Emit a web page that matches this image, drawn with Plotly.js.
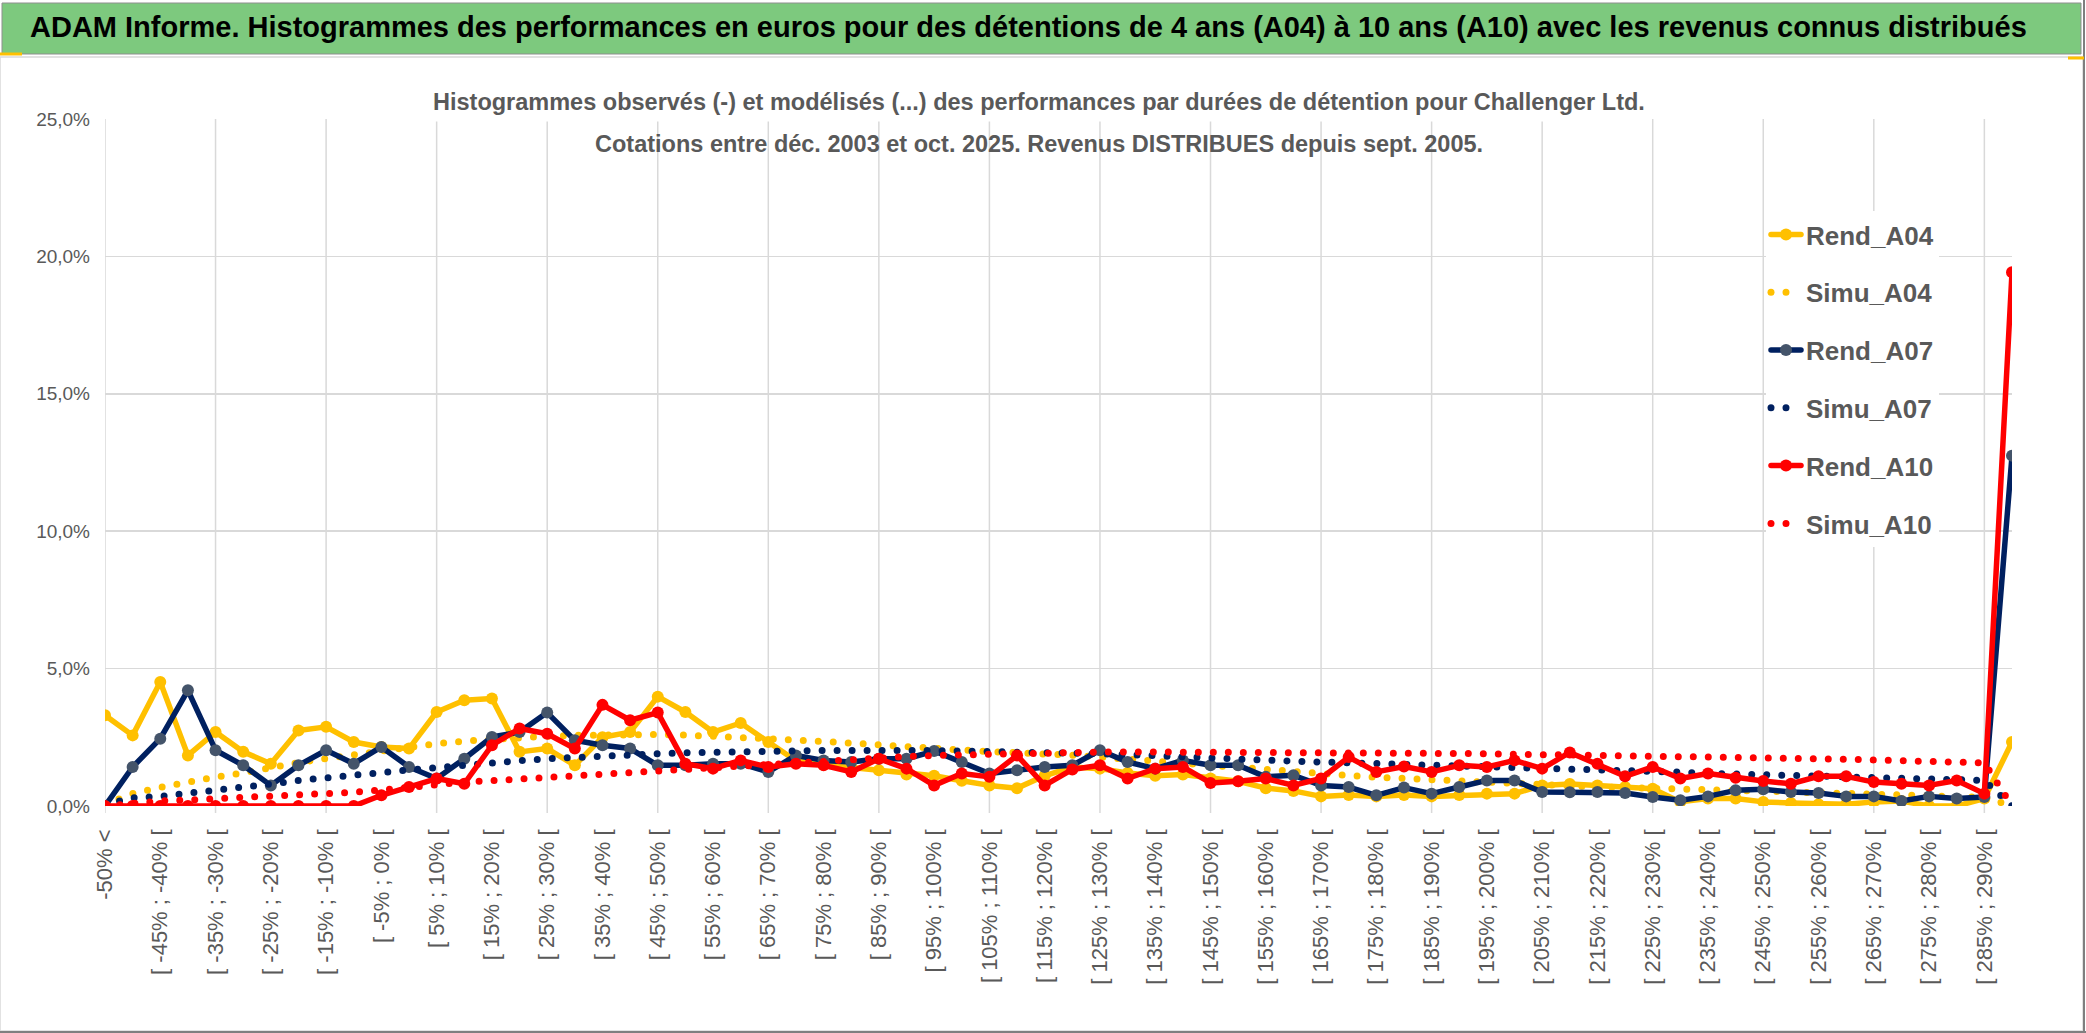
<!DOCTYPE html>
<html>
<head>
<meta charset="utf-8">
<script src="https://cdn.plot.ly/plotly-3.0.1.min.js"></script>
<style>
html,body{margin:0;padding:0;background:#fff;}
#chart{width:2086px;height:1033px;}
.js-line{stroke-linecap:round;stroke-linejoin:round;}
</style>
</head>
<body>
<div id="chart"></div>
<script>
const categories = [
"-50% <","[ -50% ; -45% [","[ -45% ; -40% [","[ -40% ; -35% [","[ -35% ; -30% [","[ -30% ; -25% [",
"[ -25% ; -20% [","[ -20% ; -15% [","[ -15% ; -10% [","[ -10% ; -5% [","[ -5% ; 0% [","[ 0% ; 5% [",
"[ 5% ; 10% [","[ 10% ; 15% [","[ 15% ; 20% [","[ 20% ; 25% [","[ 25% ; 30% [","[ 30% ; 35% [",
"[ 35% ; 40% [","[ 40% ; 45% [","[ 45% ; 50% [","[ 50% ; 55% [","[ 55% ; 60% [","[ 60% ; 65% [",
"[ 65% ; 70% [","[ 70% ; 75% [","[ 75% ; 80% [","[ 80% ; 85% [","[ 85% ; 90% [","[ 90% ; 95% [",
"[ 95% ; 100% [","[ 100% ; 105% [","[ 105% ; 110% [","[ 110% ; 115% [","[ 115% ; 120% [","[ 120% ; 125% [",
"[ 125% ; 130% [","[ 130% ; 135% [","[ 135% ; 140% [","[ 140% ; 145% [","[ 145% ; 150% [","[ 150% ; 155% [",
"[ 155% ; 160% [","[ 160% ; 165% [","[ 165% ; 170% [","[ 170% ; 175% [","[ 175% ; 180% [","[ 180% ; 185% [",
"[ 185% ; 190% [","[ 190% ; 195% [","[ 195% ; 200% [","[ 200% ; 205% [","[ 205% ; 210% [","[ 210% ; 215% [",
"[ 215% ; 220% [","[ 220% ; 225% [","[ 225% ; 230% [","[ 230% ; 235% [","[ 235% ; 240% [","[ 240% ; 245% [",
"[ 245% ; 250% [","[ 250% ; 255% [","[ 255% ; 260% [","[ 260% ; 265% [","[ 265% ; 270% [","[ 270% ; 275% [",
"[ 275% ; 280% [","[ 280% ; 285% [","[ 285% ; 290% [","> 290%"
];

// values in percent
const rendA04 = [3.30,2.57,4.51,1.84,2.69,1.97,1.54,2.75,2.88,2.33,2.15,2.09,3.42,3.85,3.91,1.97,2.09,1.48,2.50,2.69,
3.98,3.42,2.69,3.02,2.33,1.65,1.50,1.40,1.30,1.15,1.10,0.92,0.75,0.65,1.10,1.42,1.36,1.20,1.10,1.15,
1.00,0.90,0.65,0.55,0.35,0.40,0.35,0.40,0.35,0.40,0.45,0.45,0.75,0.80,0.75,0.69,0.63,0.15,0.27,0.27,
0.15,0.11,0.06,0.06,0.15,0.18,0.00,0.00,0.27,2.33];
const simuA04 = [0.05,0.45,0.68,0.88,1.05,1.20,1.42,1.58,1.73,1.88,2.00,2.12,2.27,2.36,2.44,2.50,2.54,2.57,2.59,2.61,
2.60,2.58,2.55,2.50,2.45,2.40,2.35,2.30,2.23,2.16,2.09,2.04,1.98,1.95,1.90,1.85,1.78,1.70,1.62,1.55,
1.48,1.40,1.32,1.26,1.19,1.11,1.05,1.00,0.96,0.92,0.86,0.81,0.76,0.72,0.69,0.67,0.65,0.63,0.60,0.57,
0.55,0.52,0.49,0.46,0.43,0.40,0.37,0.34,0.31,0.00];
const rendA07 = [0.00,1.42,2.45,4.21,2.03,1.48,0.75,1.48,2.03,1.54,2.15,1.42,1.00,1.72,2.51,2.69,3.40,2.39,2.21,2.09,
1.48,1.48,1.54,1.54,1.24,1.84,1.66,1.60,1.72,1.72,2.00,1.60,1.18,1.30,1.42,1.48,2.03,1.60,1.36,1.66,
1.48,1.48,1.06,1.12,0.75,0.69,0.39,0.67,0.45,0.69,0.93,0.93,0.51,0.50,0.51,0.47,0.33,0.21,0.35,0.57,
0.61,0.51,0.47,0.35,0.35,0.18,0.35,0.27,0.33,12.75];
const simuA07 = [0.05,0.30,0.35,0.45,0.57,0.65,0.80,0.93,1.04,1.14,1.22,1.31,1.40,1.50,1.58,1.65,1.72,1.78,1.83,1.87,
1.90,1.94,1.97,1.98,2.00,2.00,2.02,2.03,2.03,2.02,2.02,2.00,1.99,1.97,1.95,1.92,1.90,1.87,1.82,1.78,
1.74,1.72,1.67,1.63,1.60,1.58,1.56,1.54,1.52,1.48,1.44,1.40,1.37,1.35,1.34,1.30,1.26,1.23,1.19,1.16,
1.13,1.10,1.07,1.05,1.03,1.00,0.98,0.96,0.93,0.00];
const rendA10 = [0.00,0.00,0.00,0.00,0.00,0.00,0.00,0.00,0.00,0.00,0.39,0.69,1.00,0.81,2.21,2.82,2.63,2.09,3.68,3.12,
3.40,1.54,1.36,1.66,1.42,1.54,1.48,1.24,1.72,1.36,0.75,1.18,1.06,1.84,0.75,1.33,1.48,1.00,1.36,1.42,
0.84,0.90,1.00,0.75,1.00,1.78,1.24,1.44,1.24,1.48,1.42,1.66,1.36,1.95,1.54,1.08,1.42,1.00,1.18,1.03,
0.91,0.81,1.08,1.08,0.87,0.81,0.75,0.93,0.45,19.42];
const simuA10 = [0.00,0.10,0.18,0.22,0.26,0.30,0.34,0.38,0.43,0.50,0.58,0.68,0.80,0.87,0.92,0.98,1.03,1.08,1.15,1.22,
1.29,1.36,1.43,1.50,1.56,1.62,1.67,1.72,1.77,1.80,1.84,1.87,1.89,1.91,1.93,1.95,1.96,1.97,1.97,1.97,
1.97,1.97,1.96,1.96,1.95,1.95,1.94,1.93,1.92,1.91,1.90,1.89,1.87,1.85,1.84,1.83,1.81,1.80,1.79,1.77,
1.76,1.74,1.72,1.70,1.67,1.65,1.62,1.60,1.57,0.00];

const seriesNames = ["Rend_A04","Simu_A04","Rend_A07","Simu_A07","Rend_A10","Simu_A10"];
const yTickValues = [0,5,10,15,20,25];
const yTickText = ["0,0%","5,0%","10,0%","15,0%","20,0%","25,0%"];

const titleText = "ADAM Informe. Histogrammes des performances en euros pour des détentions de 4 ans (A04) à 10 ans (A10) avec les revenus connus distribués";
const subLine1 = "Histogrammes observés (-) et modélisés (...) des performances par durées de détention pour Challenger Ltd.";
const subLine2 = "Cotations entre déc. 2003 et oct. 2025. Revenus DISTRIBUES depuis sept. 2005.";

// ---- layout geometry ----
const W = 2086, H = 1033;
const mL = 105, mR = 74, mT = 119, mB = 227;
const pw = W - mL - mR, ph = H - mT - mB;
const px2x = p => (p - mL) / pw;
const px2y = p => (H - mB - p) / ph;

const YEL = "#FFC000", NAV = "#002060", RED = "#FF0000", NAVM = "#44546A";
const GRID = "#D9D9D9", TXT = "#595959";
const FONT = "Liberation Sans, Arial, sans-serif";

function rend(name, y, col, mcol, g) {
  return {type:"scatter", mode:"lines+markers", name:name, x:categories, y:y, legendgroup:g,
    line:{color:col, width:5.5}, marker:{color:mcol, size:12, line:{width:0}}, hoverinfo:"skip"};
}
function simu(name, y, col, g) {
  return {type:"scatter", mode:"lines", name:name, x:categories, y:y, legendgroup:g,
    line:{color:col, width:7, dash:"0px,15px"}, hoverinfo:"skip"};
}
const traces = [
  rend(seriesNames[0], rendA04, YEL, YEL, "g1"),
  simu(seriesNames[1], simuA04, YEL, "g2"),
  rend(seriesNames[2], rendA07, NAV, NAVM, "g3"),
  simu(seriesNames[3], simuA07, NAV, "g4"),
  rend(seriesNames[4], rendA10, RED, RED, "g5"),
  simu(seriesNames[5], simuA10, RED, "g6")
];

const tickIdx = categories.map((c,i)=>i).filter(i => i % 2 === 0 && i < categories.length - 1);
const gridIdx = categories.map((c,i)=>i).filter(i => i % 4 === 0);

const shapes = [];
gridIdx.forEach(i => shapes.push({type:"line", xref:"x", yref:"paper", x0:i, x1:i, y0:-7/ph, y1:1,
  layer:"below", line:{color:GRID, width:1.5}}));
// title bar and frame
shapes.push({type:"rect", xref:"paper", yref:"paper", x0:px2x(0), x1:px2x(2083), y0:px2y(1031), y1:px2y(57),
  line:{color:GRID, width:1.5}, fillcolor:"rgba(0,0,0,0)", layer:"below"});
shapes.push({type:"rect", xref:"paper", yref:"paper", x0:px2x(2), x1:px2x(2081), y0:px2y(54), y1:px2y(3),
  line:{color:"#8F8F8F", width:1}, fillcolor:"#7DC97E", layer:"below"});
shapes.push({type:"line", xref:"paper", yref:"paper", x0:px2x(2084), x1:px2x(2084), y0:px2y(1033), y1:px2y(0),
  line:{color:"#7F7F7F", width:2}});
shapes.push({type:"line", xref:"paper", yref:"paper", x0:px2x(0), x1:px2x(2086), y0:px2y(1032), y1:px2y(1032),
  line:{color:"#7F7F7F", width:2}});
shapes.push({type:"line", xref:"paper", yref:"paper", x0:px2x(0), x1:px2x(22), y0:px2y(54), y1:px2y(54),
  line:{color:YEL, width:3}});
shapes.push({type:"line", xref:"paper", yref:"paper", x0:px2x(2068), x1:px2x(2084), y0:px2y(58), y1:px2y(58),
  line:{color:YEL, width:3}});

const layout = {
  width:W, height:H,
  margin:{l:mL, r:mR, t:mT, b:mB, pad:0},
  paper_bgcolor:"#FFFFFF", plot_bgcolor:"#FFFFFF",
  separators:", ",
  showlegend:true,
  title:{text:"<b>"+titleText+"</b>", xref:"container", yref:"container", x:30/W, xanchor:"left",
    y:1-27/H, yanchor:"middle", font:{family:FONT, size:29, color:"#000000"}},
  xaxis:{type:"category", categoryorder:"array", categoryarray:categories, range:[0, categories.length-1],
    tickmode:"array", tickvals:tickIdx, ticktext:tickIdx.map(i=>categories[i]), tickangle:-90,
    tickfont:{family:FONT, size:22, color:TXT}, showgrid:false, zeroline:false, showline:false,
    ticks:"", ticklabelstandoff:18, automargin:false, fixedrange:true},
  yaxis:{range:[0,25], tickmode:"array", tickvals:yTickValues, ticktext:yTickText,
    tickfont:{family:FONT, size:19, color:TXT}, showgrid:true, gridcolor:GRID, gridwidth:1.5,
    zeroline:false, showline:false, ticks:"", ticklabelstandoff:14, automargin:false, fixedrange:true},
  legend:{x:px2x(1766), y:px2y(211), xanchor:"left", yanchor:"top", bgcolor:"#FFFFFF", borderwidth:0,
    font:{family:FONT, size:26, color:TXT, weight:"bold"}, tracegroupgap:21, traceorder:"grouped"},
  annotations:[
    {text:"<b>"+subLine1+"</b>", xref:"paper", yref:"paper", x:px2x(1039), y:px2y(102), xanchor:"center", yanchor:"middle",
      showarrow:false, bgcolor:"#FFFFFF", borderpad:6, font:{family:FONT, size:23.5, color:TXT}},
    {text:"<b>"+subLine2+"</b>", xref:"paper", yref:"paper", x:px2x(1039), y:px2y(144), xanchor:"center", yanchor:"middle",
      showarrow:false, font:{family:FONT, size:23.5, color:TXT}}
  ],
  shapes:shapes
};

Plotly.newPlot("chart", traces, layout, {staticPlot:true, displayModeBar:false});
</script>
</body>
</html>
